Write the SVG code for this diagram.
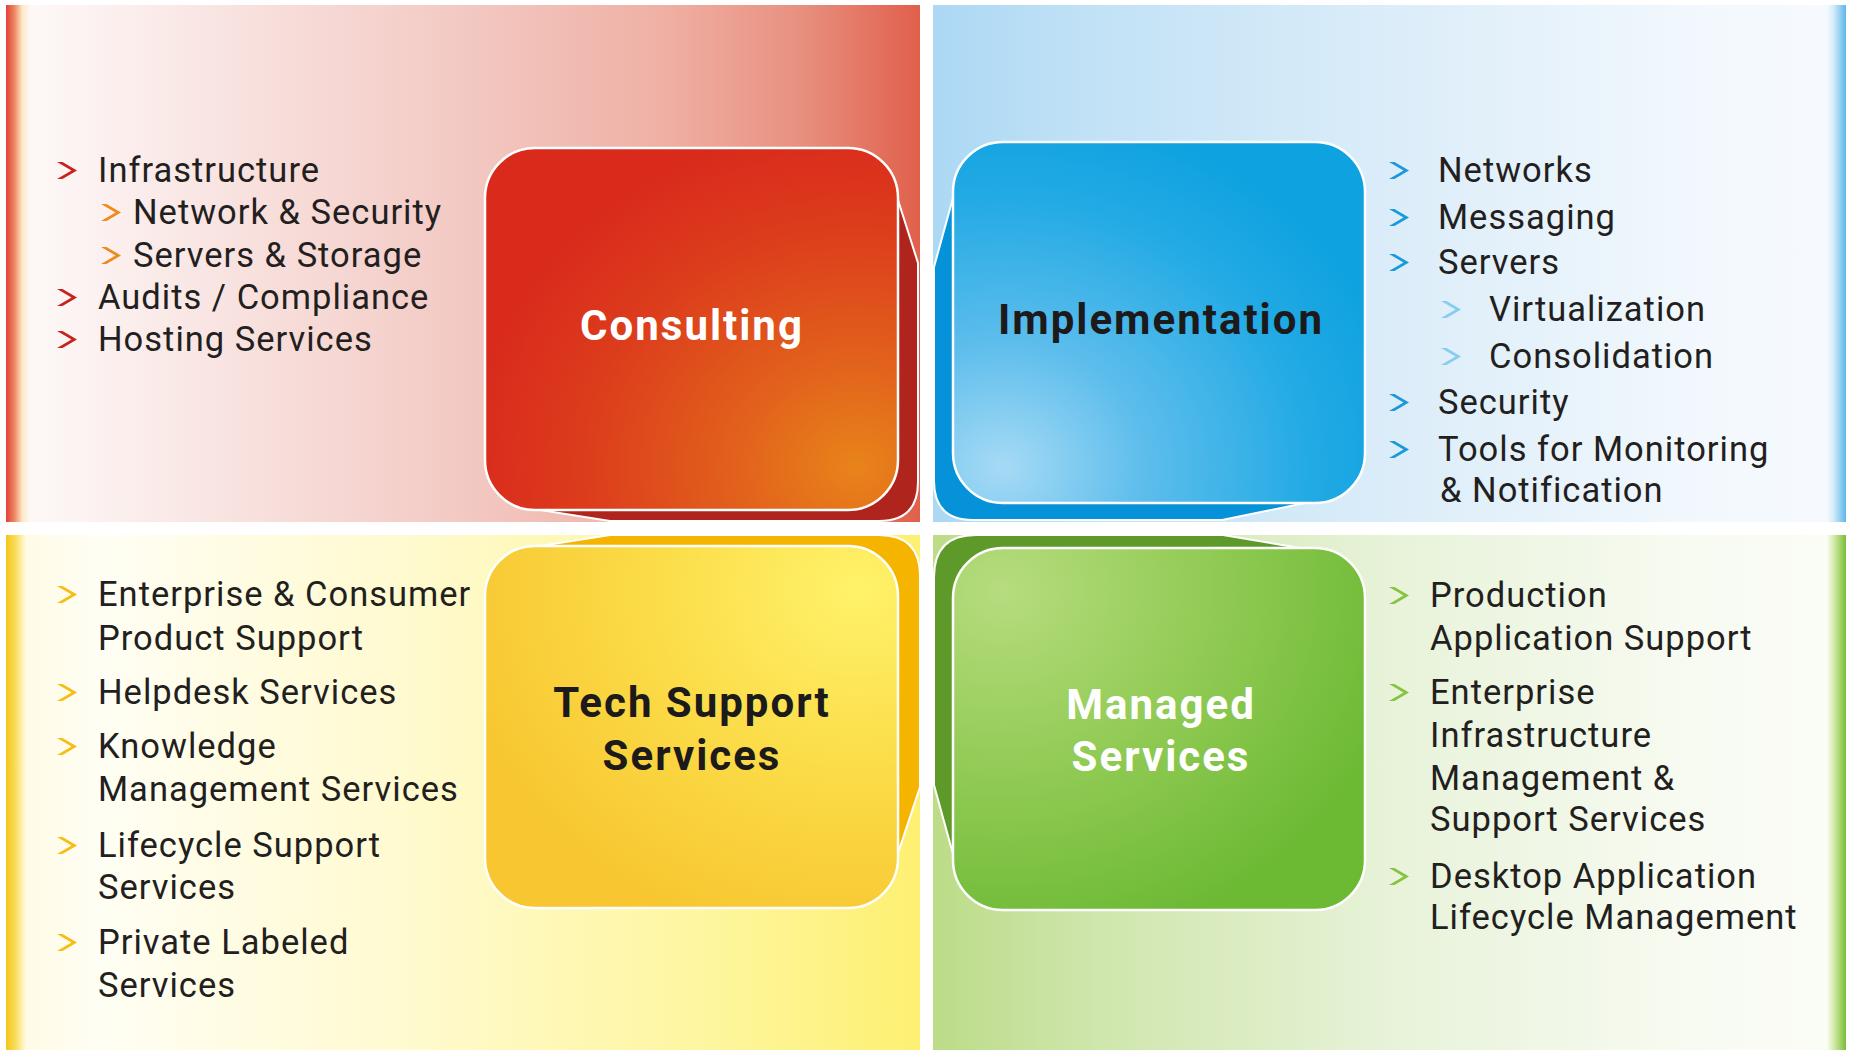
<svg xmlns="http://www.w3.org/2000/svg" xmlns:xlink="http://www.w3.org/1999/xlink" width="1849" height="1050" viewBox="0 0 1849 1050">
<style>
text{font-family:Roboto,"Open Sans","DejaVu Sans",sans-serif}
.item{font-size:34.5px;fill:#231f20;letter-spacing:1px}
.title{font-size:42px;font-weight:700;text-anchor:middle;letter-spacing:2px}
.w{fill:#ffffff}
.d{fill:#1c1a1a}
.box{stroke:#ffffff;stroke-width:2.5}
.shadow{stroke:#ffffff;stroke-width:2}
.b-red{fill:#c8221e}
.b-orange{fill:#ef8a1c}
.b-blue{fill:#1a9ad8}
.b-lblue{fill:#86cdf0}
.b-yellow{fill:#f7bd12}
.b-green{fill:#86c440}
</style>
<defs>
<path id="chev" d="M0 0 H5.5 L20 8.5 L5.5 17 H0 L14.5 8.5 Z"/>
<linearGradient id="gRedPanel" gradientUnits="userSpaceOnUse" x1="6" y1="0" x2="920" y2="0">
<stop offset="0" stop-color="#e2403a"/>
<stop offset="0.009" stop-color="#ee8460"/>
<stop offset="0.018" stop-color="#fde9c8"/>
<stop offset="0.027" stop-color="#fdf8f7"/>
<stop offset="0.125" stop-color="#fbefee"/>
<stop offset="0.5" stop-color="#f3c9c3"/>
<stop offset="0.72" stop-color="#efb0a4"/>
<stop offset="0.87" stop-color="#e8907f"/>
<stop offset="1" stop-color="#e0604b"/>
</linearGradient>
<linearGradient id="gBluePanel" gradientUnits="userSpaceOnUse" x1="933" y1="0" x2="1846" y2="0">
<stop offset="0" stop-color="#acd8f4"/>
<stop offset="0.18" stop-color="#c2e2f6"/>
<stop offset="0.51" stop-color="#dcedf9"/>
<stop offset="0.84" stop-color="#f2f8fd"/>
<stop offset="0.979" stop-color="#f6fafe"/>
<stop offset="0.986" stop-color="#d6ecfa"/>
<stop offset="1" stop-color="#5cb6ea"/>
</linearGradient>
<linearGradient id="gYellowPanel" gradientUnits="userSpaceOnUse" x1="6" y1="0" x2="920" y2="0">
<stop offset="0" stop-color="#f5c518"/>
<stop offset="0.011" stop-color="#f9df60"/>
<stop offset="0.022" stop-color="#fffbe6"/>
<stop offset="0.1" stop-color="#fffef4"/>
<stop offset="0.43" stop-color="#fffad0"/>
<stop offset="0.76" stop-color="#fef6a0"/>
<stop offset="1" stop-color="#fdf072"/>
</linearGradient>
<linearGradient id="gGreenPanel" gradientUnits="userSpaceOnUse" x1="933" y1="0" x2="1846" y2="0">
<stop offset="0" stop-color="#bcdc88"/>
<stop offset="0.18" stop-color="#cfe6ac"/>
<stop offset="0.51" stop-color="#e8f3da"/>
<stop offset="0.84" stop-color="#f8fbf2"/>
<stop offset="0.979" stop-color="#fafcf6"/>
<stop offset="0.986" stop-color="#d8ecb0"/>
<stop offset="1" stop-color="#79bd35"/>
</linearGradient>
<radialGradient id="gConsult" cx="0.9" cy="0.88" r="0.95">
<stop offset="0" stop-color="#e8841a"/>
<stop offset="0.3" stop-color="#e2621c"/>
<stop offset="0.7" stop-color="#dc3c1c"/>
<stop offset="1" stop-color="#d92a1c"/>
</radialGradient>
<radialGradient id="gImpl" cx="0.12" cy="0.9" r="1">
<stop offset="0" stop-color="#a6daf5"/>
<stop offset="0.35" stop-color="#5cbdec"/>
<stop offset="0.75" stop-color="#22aae4"/>
<stop offset="1" stop-color="#0ea2e0"/>
</radialGradient>
<radialGradient id="gTech" cx="0.9" cy="0.12" r="1">
<stop offset="0" stop-color="#fff26a"/>
<stop offset="0.5" stop-color="#fbdc48"/>
<stop offset="1" stop-color="#f7c630"/>
</radialGradient>
<radialGradient id="gManaged" cx="0.12" cy="0.12" r="1">
<stop offset="0" stop-color="#b6dc7e"/>
<stop offset="0.5" stop-color="#92cb55"/>
<stop offset="1" stop-color="#6cb934"/>
</radialGradient>
</defs>

<rect x="0" y="0" width="1849" height="1050" fill="#ffffff"/>

<g id="consulting">
<rect x="6" y="5" width="914" height="517" fill="url(#gRedPanel)"/>
<path class="shadow" d="M 898 200 L 918 263 L 918 482 Q 918 521 879 521 L 610 521 L 540 510 L 600 300 Z" fill="#b0241e"/>
<rect class="box" x="485" y="148" width="413" height="362" rx="50" ry="50" fill="url(#gConsult)"/>
<text class="title w" x="692" y="340">Consulting</text>
<g id="consulting-list">
<use xlink:href="#chev" x="57" y="162" class="b-red"/>
<text class="item" x="98" y="182">Infrastructure</text>
<use xlink:href="#chev" x="101" y="204" class="b-orange"/>
<text class="item" x="133" y="224">Network &amp; Security</text>
<use xlink:href="#chev" x="101" y="247" class="b-orange"/>
<text class="item" x="133" y="267">Servers &amp; Storage</text>
<use xlink:href="#chev" x="57" y="289" class="b-red"/>
<text class="item" x="98" y="309">Audits / Compliance</text>
<use xlink:href="#chev" x="57" y="331" class="b-red"/>
<text class="item" x="98" y="351">Hosting Services</text>
</g>
</g>

<g id="implementation">
<rect x="933" y="5" width="913" height="517" fill="url(#gBluePanel)"/>
<path class="shadow" d="M 953 198 L 934 267 L 934 481 Q 934 520 973 520 L 1222 520 L 1305 503 L 1100 300 Z" fill="#0592d8"/>
<rect class="box" x="953" y="142" width="412" height="361" rx="50" ry="50" fill="url(#gImpl)"/>
<text class="title d" x="1161" y="334">Implementation</text>
<g id="implementation-list">
<use xlink:href="#chev" x="1389" y="162" class="b-blue"/>
<text class="item" x="1438" y="182">Networks</text>
<use xlink:href="#chev" x="1389" y="209" class="b-blue"/>
<text class="item" x="1438" y="229">Messaging</text>
<use xlink:href="#chev" x="1389" y="254" class="b-blue"/>
<text class="item" x="1438" y="274">Servers</text>
<use xlink:href="#chev" x="1441" y="301" class="b-lblue"/>
<text class="item" x="1489" y="321">Virtualization</text>
<use xlink:href="#chev" x="1441" y="348" class="b-lblue"/>
<text class="item" x="1489" y="368">Consolidation</text>
<use xlink:href="#chev" x="1389" y="394" class="b-blue"/>
<text class="item" x="1438" y="414">Security</text>
<use xlink:href="#chev" x="1389" y="441" class="b-blue"/>
<text class="item" x="1438" y="461">Tools for Monitoring</text>
<text class="item" x="1440" y="502">&amp; Notification</text>
</g>
</g>

<g id="tech-support">
<rect x="6" y="535" width="914" height="515" fill="url(#gYellowPanel)"/>
<path class="shadow" d="M 540 546 L 610 535 L 879 535 Q 920 535 920 576 L 920 787 L 898 853 L 700 700 Z" fill="#f5b400"/>
<rect class="box" x="485" y="546" width="413" height="362" rx="50" ry="50" fill="url(#gTech)"/>
<text class="title d" x="692" y="717">Tech Support</text>
<text class="title d" x="692" y="770">Services</text>
<g id="tech-support-list">
<use xlink:href="#chev" x="57" y="586" class="b-yellow"/>
<text class="item" x="98" y="606">Enterprise &amp; Consumer</text>
<text class="item" x="98" y="650">Product Support</text>
<use xlink:href="#chev" x="57" y="684" class="b-yellow"/>
<text class="item" x="98" y="704">Helpdesk Services</text>
<use xlink:href="#chev" x="57" y="738" class="b-yellow"/>
<text class="item" x="98" y="758">Knowledge</text>
<text class="item" x="98" y="801">Management Services</text>
<use xlink:href="#chev" x="57" y="837" class="b-yellow"/>
<text class="item" x="98" y="857">Lifecycle Support</text>
<text class="item" x="98" y="899">Services</text>
<use xlink:href="#chev" x="57" y="934" class="b-yellow"/>
<text class="item" x="98" y="954">Private Labeled</text>
<text class="item" x="98" y="997">Services</text>
</g>
</g>

<g id="managed-services">
<rect x="933" y="535" width="913" height="515" fill="url(#gGreenPanel)"/>
<path class="shadow" d="M 1300 548 L 1223 535 L 976 535 Q 934 535 934 577 L 934 785 L 953 854 L 1100 700 Z" fill="#5e9a2a"/>
<rect class="box" x="953" y="548" width="412" height="362" rx="50" ry="50" fill="url(#gManaged)"/>
<text class="title w" x="1161" y="719">Managed</text>
<text class="title w" x="1161" y="771">Services</text>
<g id="managed-services-list">
<use xlink:href="#chev" x="1389" y="587" class="b-green"/>
<text class="item" x="1430" y="607">Production</text>
<text class="item" x="1430" y="650">Application Support</text>
<use xlink:href="#chev" x="1389" y="684" class="b-green"/>
<text class="item" x="1430" y="704">Enterprise</text>
<text class="item" x="1430" y="747">Infrastructure</text>
<text class="item" x="1430" y="790">Management &amp;</text>
<text class="item" x="1430" y="831">Support Services</text>
<use xlink:href="#chev" x="1389" y="868" class="b-green"/>
<text class="item" x="1430" y="888">Desktop Application</text>
<text class="item" x="1430" y="929">Lifecycle Management</text>
</g>
</g>

<g id="connectors"></g>
</svg>
